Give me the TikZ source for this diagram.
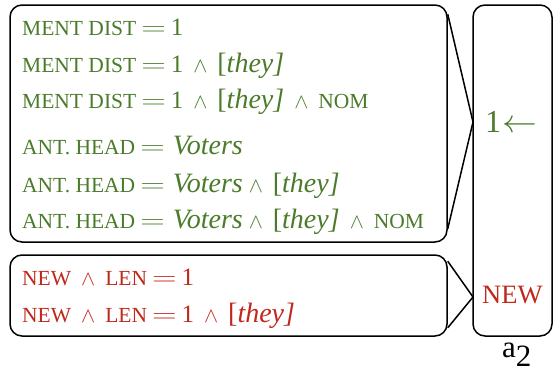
\documentclass[tikz,border=0pt]{standalone}
\usepackage[no-math]{fontspec}
\setmainfont{Liberation Serif}
\usepackage{graphicx}
\usetikzlibrary{calc}
\definecolor{tgreen}{RGB}{75,123,43}
\definecolor{tred}{RGB}{192,40,28}
\newcommand\cp[1]{{\fontsize{21.5}{21.5}\selectfont #1}}
\newcommand\itw[1]{{\fontsize{28}{28}\selectfont\itshape #1}}
\newcommand\br[1]{{\fontsize{28}{28}\selectfont[\itshape #1\/]}}
\newcommand\EQ{\hspace{5pt}\scalebox{1.37}[1]{$=$}\hspace{5pt}}
\newcommand\EQV{\hspace{5pt}\scalebox{1.37}[1]{$=$}\hspace{8pt}}
\newcommand\AND{\hspace{10pt}\scalebox{0.85}{$\wedge$}\hspace{10pt}}
\newcommand\ANDs{\hspace{6pt}\scalebox{0.85}{$\wedge$}\hspace{10pt}}
\begin{document}
\begin{tikzpicture}[x=1pt,y=-1pt,
  box/.style={draw,line width=1.5pt,rounded corners=12pt,rectangle,inner sep=0pt},
  gl/.style={anchor=base west,inner sep=0pt,text=tgreen,font=\fontsize{25}{25}\selectfont},
  rl/.style={anchor=base west,inner sep=0pt,text=tred,font=\fontsize{25}{25}\selectfont},
  link/.style={line width=1.5pt}]
\useasboundingbox (0,0) rectangle (553,372);
% boxes
\node[box,minimum width=437pt,minimum height=237pt] (G) at (228.5,123.5) {};
\node[box,minimum width=437pt,minimum height=81pt] (R) at (228.5,295.5) {};
\node[box,minimum width=79pt,minimum height=331pt] (A) at (512.5,170.5) {};
% green lines
\node[gl] (g1) at (22,35)  {\cp{MENT DIST}\EQ 1};
\node[gl] (g2) at (22,72)  {\cp{MENT DIST}\EQ 1\AND\br{they}};
\node[gl] (g3) at (22,108) {\cp{MENT DIST}\EQ 1\AND\br{they}\AND\cp{NOM}};
\node[gl] (g4) at (22,154) {\cp{ANT. HEAD}\EQV\itw{Voters}};
\node[gl] (g5) at (22,192) {\cp{ANT. HEAD}\EQV\itw{Voters}\ANDs\br{they}};
\node[gl] (g6) at (22,228) {\cp{ANT. HEAD}\EQV\itw{Voters}\ANDs\br{they}\AND\cp{NOM}};
% red lines
\node[rl] (r1) at (22,285) {\cp{NEW}\AND\cp{LEN}\EQ 1};
\node[rl] (r2) at (22,322) {\cp{NEW}\AND\cp{LEN}\EQ 1\AND\br{they}};
% right box texts
\node[anchor=base west,inner sep=0pt,text=tgreen,font=\fontsize{32}{32}\selectfont] (one) at (485,132) {1\hspace{1pt}\scalebox{1.4}[1.3]{$\leftarrow$}};
\node[anchor=base west,inner sep=0pt,text=tred,font=\fontsize{26.5}{26.5}\selectfont] (new) at (482,303) {NEW};
\node[anchor=base west,inner sep=0pt,font=\fontsize{31}{31}\selectfont] (a2) at (502,357) {a\raisebox{-9pt}{2}};
% connectors
\coordinate (gv) at (473,122);
\coordinate (rv) at (473,297);
\draw[link] ($(G.north east)+(0,10)$) -- (gv) -- ($(G.south east)+(0,-14)$);
\draw[link] ($(R.north east)+(0,7)$) -- (rv) -- ($(R.south east)+(0,-9)$);
\end{tikzpicture}
\end{document}
